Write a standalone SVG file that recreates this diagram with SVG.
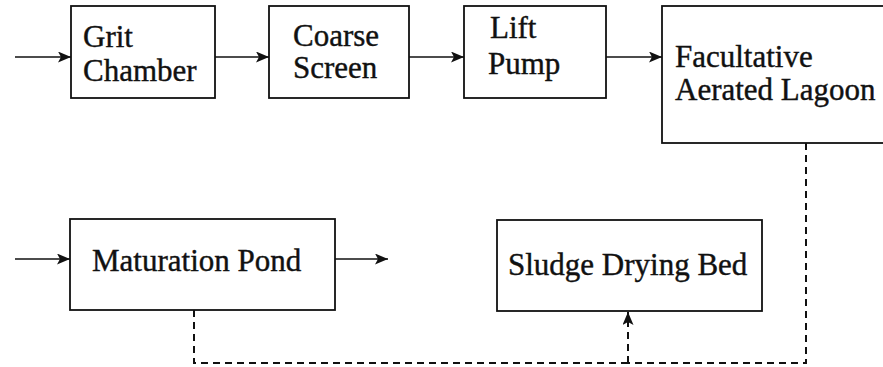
<svg xmlns="http://www.w3.org/2000/svg" width="883" height="367" viewBox="0 0 883 367">
<style>
.box{fill:#fff;stroke:#111;stroke-width:1.8}
.t{font-family:"Liberation Serif","Times New Roman",serif;font-size:31px;fill:#111;stroke:#111;stroke-width:0.4}
.a{stroke:#111;stroke-width:1.5;fill:none}
.d{stroke:#111;stroke-width:2;fill:none;stroke-dasharray:7 5}
</style>
<defs>
<marker id="ah" viewBox="0 0 13 11" refX="13" refY="5.5" markerWidth="13" markerHeight="11" markerUnits="userSpaceOnUse" orient="auto">
<path d="M0,0 L13,5.5 L0,11 L3,5.5 Z" fill="#111"/>
</marker>
</defs>
<rect width="883" height="367" fill="#fff"/>
<g id="grit"><rect class="box" x="71" y="6" width="144" height="92"/><text class="t" x="83" y="47">Grit</text><text class="t" x="83" y="81">Chamber</text></g>
<g id="coarse"><rect class="box" x="269" y="6" width="140" height="92"/><text class="t" x="293" y="46">Coarse</text><text class="t" x="293" y="78">Screen</text></g>
<g id="lift"><rect class="box" x="464" y="6" width="142" height="92"/><text class="t" x="490" y="38">Lift</text><text class="t" x="488" y="74">Pump</text></g>
<g id="lagoon"><rect class="box" x="662" y="6" width="240" height="137"/><text class="t" x="675" y="67">Facultative</text><text class="t" x="675" y="100">Aerated Lagoon</text></g>
<g id="maturation"><rect class="box" x="70" y="219" width="265" height="91"/><text class="t" x="92" y="271">Maturation Pond</text></g>
<g id="sludge"><rect class="box" x="497" y="220" width="265" height="91"/><text class="t" x="508" y="275">Sludge Drying Bed</text></g>
<g id="connectors">
<line class="a" x1="15" y1="57" x2="71" y2="57" marker-end="url(#ah)"/>
<line class="a" x1="215" y1="57" x2="269" y2="57" marker-end="url(#ah)"/>
<line class="a" x1="409" y1="57" x2="464" y2="57" marker-end="url(#ah)"/>
<line class="a" x1="606" y1="57" x2="662" y2="57" marker-end="url(#ah)"/>
<line class="a" x1="15" y1="259" x2="70" y2="259" marker-end="url(#ah)"/>
<line class="a" x1="335" y1="259" x2="388" y2="259" marker-end="url(#ah)"/>
<polyline class="d" points="806,143 806,363 628,363"/>
<polyline class="d" points="194,310 194,363 628,363"/>
<line class="d" x1="628" y1="363" x2="628" y2="312" marker-end="url(#ah)"/>
</g>
</svg>
